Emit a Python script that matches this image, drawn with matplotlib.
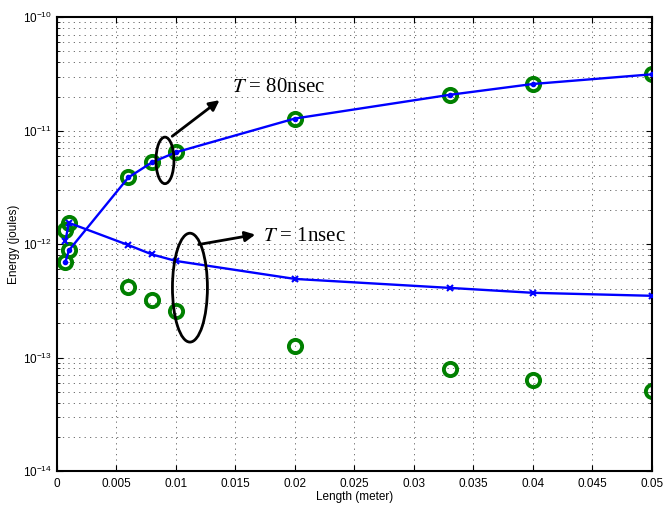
import matplotlib
matplotlib.use('Agg')
import matplotlib.pyplot as plt
from matplotlib.patches import Ellipse
from matplotlib.ticker import LogLocator, NullFormatter

plt.rcParams['font.family'] = ['Liberation Sans', 'DejaVu Sans']
plt.rcParams['mathtext.fontset'] = 'stix'

# data
length = [0.0007, 0.001, 0.006, 0.008, 0.01, 0.02, 0.033, 0.04, 0.05]
energy_80ns = [6.95e-13, 8.8e-13, 3.87e-12, 5.27e-12, 6.45e-12, 1.28e-11, 2.07e-11, 2.58e-11, 3.14e-11]
energy_1ns = [1.06e-12, 1.54e-12, 9.8e-13, 8.1e-13, 7.1e-13, 4.93e-13, 4.11e-13, 3.72e-13, 3.5e-13]
sim_80ns = [6.95e-13, 8.8e-13, 3.87e-12, 5.27e-12, 6.45e-12, 1.28e-11, 2.07e-11, 2.58e-11, 3.14e-11]
sim_1ns = [1.32e-12, 1.54e-12, 4.2e-13, 3.2e-13, 2.58e-13, 1.27e-13, 7.85e-14, 6.3e-14, 5.1e-14]
xticks = [0, 0.005, 0.01, 0.015, 0.02, 0.025, 0.03, 0.035, 0.04, 0.045, 0.05]
xtick_labels = ['0', '0.005', '0.01', '0.015', '0.02', '0.025', '0.03', '0.035', '0.04', '0.045', '0.05']
yticks = [1e-14, 1e-13, 1e-12, 1e-11, 1e-10]
ytick_labels = [r'$\mathdefault{10^{-14}}$', r'$\mathdefault{10^{-13}}$', r'$\mathdefault{10^{-12}}$',
                r'$\mathdefault{10^{-11}}$', r'$\mathdefault{10^{-10}}$']

fig = plt.figure(figsize=(6.63, 5.08), dpi=100)
ax = fig.add_axes([0.086, 0.073, 0.897, 0.893])

ax.plot(length, energy_80ns, '-', color='blue', lw=1.7, marker='.', ms=6, zorder=3)
ax.plot(length, energy_1ns, '-', color='blue', lw=1.7, marker='x', ms=5, mew=1.5, zorder=3)
green = (0, 0.5, 0)
ax.plot(length, sim_80ns, 'o', mfc='none', mec=green, ms=9.5, mew=2.8, zorder=2)
ax.plot(length, sim_1ns, 'o', mfc='none', mec=green, ms=9.5, mew=2.8, zorder=2)

ax.set_yscale('log')
ax.set_xlim(0, 0.05)
ax.set_ylim(1e-14, 1e-10)
ax.set_xticks(xticks)
ax.set_xticklabels(xtick_labels)
ax.set_yticks(yticks)
ax.set_yticklabels(ytick_labels)
ax.yaxis.set_minor_locator(LogLocator(base=10, subs=range(2, 10), numticks=50))
ax.yaxis.set_minor_formatter(NullFormatter())

dots = (0, (1.5, 5))
ax.grid(True, which='major', axis='both', ls=dots, color='0.35', lw=0.6)
ax.grid(True, which='minor', axis='y', ls=dots, color='0.35', lw=0.6)
ax.tick_params(which='both', direction='in', top=True, right=True, labelsize=8.5)
ax.tick_params(which='major', length=4)
ax.tick_params(which='minor', length=2.5)
ax.tick_params(axis='x', pad=5)
for s in ax.spines.values():
    s.set_linewidth(1.5)

ax.set_xlabel('Length (meter)', fontsize=8.5, labelpad=1)
ax.set_ylabel('Energy (joules)', fontsize=8.5, labelpad=2)

# annotations
ax.add_patch(Ellipse((0.1815, 0.6845), 0.0303, 0.1026, transform=ax.transAxes,
                     fill=False, ec='black', lw=2, zorder=4))
ax.add_patch(Ellipse((0.2235, 0.404), 0.0588, 0.240, transform=ax.transAxes,
                     fill=False, ec='black', lw=2, zorder=4))
ax.annotate('', xy=(0.277, 0.821), xytext=(0.19, 0.734), xycoords='axes fraction',
            arrowprops=dict(arrowstyle='-|>', color='black', lw=2, mutation_scale=15))
ax.annotate('', xy=(0.338, 0.522), xytext=(0.2336, 0.498), xycoords='axes fraction',
            arrowprops=dict(arrowstyle='-|>', color='black', lw=2, mutation_scale=15))
ax.text(0.294, 0.845, r'$T$ = 80nsec', transform=ax.transAxes, fontsize=15,
        family='Liberation Serif', va='center', ha='left')
ax.text(0.346, 0.517, r'$T$ = 1nsec', transform=ax.transAxes, fontsize=15,
        family='Liberation Serif', va='center', ha='left')

fig.savefig('out.png', dpi=100)
